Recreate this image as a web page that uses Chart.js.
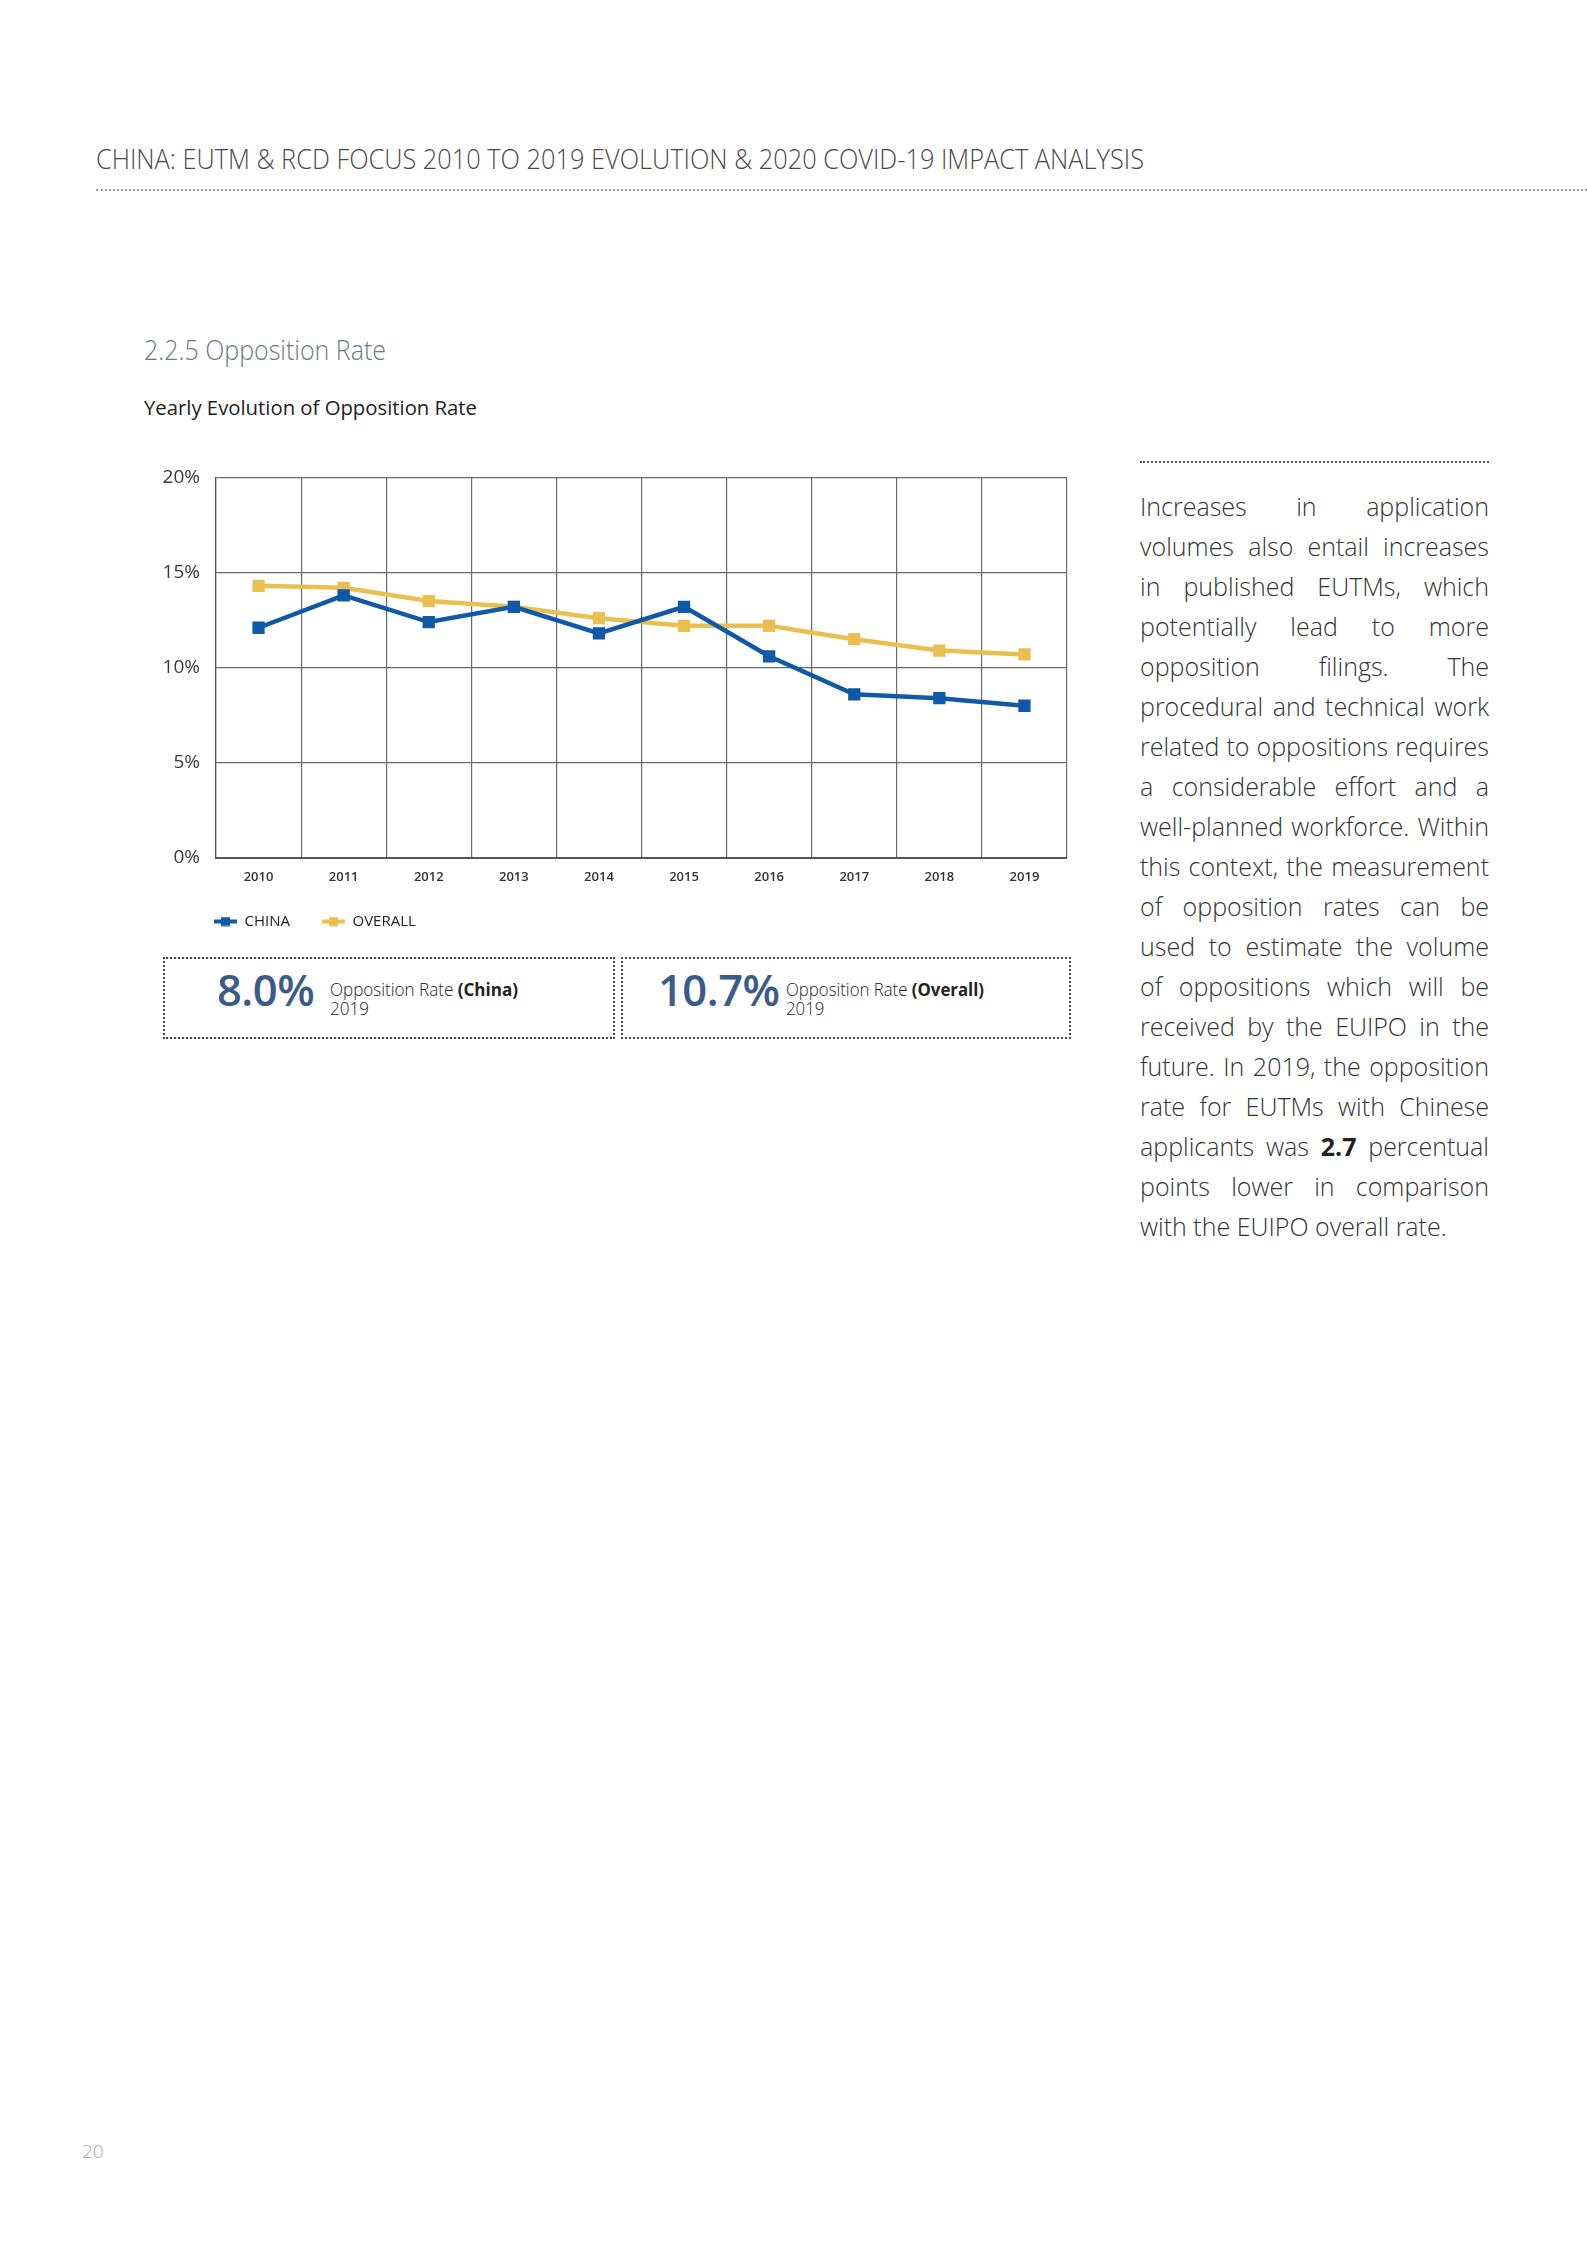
<!DOCTYPE html>
<html>
<head>
<meta charset="utf-8">
<script src="https://cdn.jsdelivr.net/npm/chart.js@4.4.1/dist/chart.umd.min.js"></script>
<style>
body { margin: 0; background: #fff; font-family: "Open Sans", sans-serif; }
#page { position: relative; width: 1587px; height: 2245px; overflow: hidden; background: #fff; }
.abs { position: absolute; white-space: nowrap; line-height: 1; transform-origin: 0 0; }
#header { left: 96px; top: 145px; font-size: 27px; font-weight: 300; color: #4a4a4a; }
#headline { position: absolute; left: 96px; top: 189px; width: 1491px; border-top: 2px dotted #9a9a9a; }
#title { left: 144px; top: 335px; font-size: 28px; font-weight: 300; color: #6d7885; }
#subtitle { left: 144px; top: 398px; font-size: 20px; font-weight: 400; color: #222; }
#chartBox { position: absolute; left: 150px; top: 450px; width: 940px; height: 489px; }
.kpi { position: absolute; top: 957px; height: 82px; border: 2px dotted #444; box-sizing: border-box; }
.big { font-size: 43.5px; font-weight: 600; color: #3b5c88; letter-spacing: -0.5px; }
.lbl { font-size: 18px; font-weight: 300; color: #222; line-height: 19px; }
.lbl b { font-weight: 700; }
#colline { position: absolute; left: 1140px; top: 461px; width: 349px; border-top: 2px dotted #555; }
#col { position: absolute; left: 1140px; top: 486px; width: 349px; font-size: 25px; font-weight: 300; color: #333; }
#col div { height: 40px; line-height: 40px; white-space: nowrap; text-align: justify; text-align-last: justify; }
#col div.last { text-align-last: left; }
#col b { font-weight: 700; color: #222; }
#pnum { left: 82px; top: 2142px; font-size: 19px; font-weight: 300; color: #a8a8a8; }
</style>
</head>
<body>
<div id="page">
  <div id="header" class="abs">CHINA: EUTM &amp; RCD FOCUS 2010 TO 2019 EVOLUTION &amp; 2020 COVID-19 IMPACT ANALYSIS</div>
  <div id="headline"></div>

  <div id="title" class="abs">2.2.5 Opposition Rate</div>
  <div id="subtitle" class="abs">Yearly Evolution of Opposition Rate</div>

  <div id="chartBox"><canvas id="rateChart" width="940" height="489"></canvas></div>

  <div class="kpi" style="left:163px;width:452px;"></div>
  <div class="kpi" style="left:621px;width:450px;"></div>
  <div id="n1" class="abs big" style="left:217px;top:968px;">8.0%</div>
  <div id="l1" class="abs lbl" style="left:330px;top:980px;">Opposition Rate <b>(China)</b><br>2019</div>
  <div id="n2" class="abs big" style="left:658px;top:968px;">10.7%</div>
  <div id="l2" class="abs lbl" style="left:786px;top:980px;">Opposition Rate <b>(Overall)</b><br>2019</div>

  <div id="colline"></div>
  <div id="col">
    <div>Increases in application</div>
    <div>volumes also entail increases</div>
    <div>in published EUTMs, which</div>
    <div>potentially lead to more</div>
    <div>opposition filings. The</div>
    <div>procedural and technical work</div>
    <div>related to oppositions requires</div>
    <div>a considerable effort and a</div>
    <div>well-planned workforce. Within</div>
    <div>this context, the measurement</div>
    <div>of opposition rates can be</div>
    <div>used to estimate the volume</div>
    <div>of oppositions which will be</div>
    <div>received by the EUIPO in the</div>
    <div>future. In 2019, the opposition</div>
    <div>rate for EUTMs with Chinese</div>
    <div>applicants was <b>2.7</b> percentual</div>
    <div>points lower in comparison</div>
    <div class="last">with the EUIPO overall rate.</div>
  </div>

  <div id="pnum" class="abs">20</div>
</div>

<script>
// values (percent)
var years = ['2010', '2011', '2012', '2013', '2014', '2015', '2016', '2017', '2018', '2019'];
var chinaRate = [12.1, 13.8, 12.4, 13.2, 11.8, 13.2, 10.6, 8.6, 8.4, 8.0];
var overallRate = [14.3, 14.2, 13.5, 13.2, 12.6, 12.2, 12.2, 11.5, 10.9, 10.7];
var seriesNames = ['CHINA', 'OVERALL'];
var seriesColors = ['#1059a8', '#e9bf52'];
var yMin = 0, yMax = 20, yStep = 5;

// squeeze text to the width it has on the page
function fitWidth(id, w) {
    var el = document.getElementById(id);
    var real = el.getBoundingClientRect().width;
    if (real > 0) el.style.transform = 'scaleX(' + (w / real) + ')';
}
fitWidth('header', 1048);
fitWidth('title', 242);
fitWidth('subtitle', 333);
fitWidth('l1', 188);
fitWidth('l2', 198);

// legend marker: short line with a square on it
var legendMark = function (color) {
    var c = document.createElement('canvas');
    c.width = 23;
    c.height = 10;
    var g = c.getContext('2d');
    g.fillStyle = color;
    g.fillRect(0, 3, 23, 4);
    g.fillRect(7, 0.5, 9, 9);
    return c;
};

var shiftLegend = {
    id: 'shiftLegend',
    afterLayout: function (chart) {
        var dx = 214 - 150 - chart.options.plugins.legend.labels.padding - chart.legend.left;
        chart.legend.left += dx;
        chart.legend.right += dx;
    }
};

var ctx = document.getElementById('rateChart');
var chart = new Chart(ctx, {
    type: 'line',
    data: {
        labels: years,
        datasets: [{
            label: seriesNames[0],
            data: chinaRate,
            borderColor: seriesColors[0],
            backgroundColor: seriesColors[0],
            borderWidth: 4.5,
            pointStyle: 'rect',
            pointRadius: 5.5,
            tension: 0
        }, {
            label: seriesNames[1],
            data: overallRate,
            borderColor: seriesColors[1],
            backgroundColor: seriesColors[1],
            borderWidth: 4.5,
            pointStyle: 'rect',
            pointRadius: 5.5,
            tension: 0
        }]
    },
    options: {
        responsive: false,
        animation: false,
        devicePixelRatio: 1,
        layout: { padding: { top: 0, right: 23, left: 0, bottom: 0 } },
        scales: {
            x: {
                offset: true,
                grid: { offset: true, color: '#6a6a6a', lineWidth: 1.2, drawTicks: false },
                border: { color: '#555', width: 2 },
                ticks: { color: '#333', padding: 11, font: { family: 'Open Sans', size: 13, weight: '600' } },
                afterFit: function (s) { s.height = 24; }
            },
            y: {
                min: yMin,
                max: yMax,
                grid: { color: '#6a6a6a', lineWidth: 1.2, drawTicks: false },
                border: { color: '#555', width: 1.2 },
                ticks: {
                    stepSize: yStep,
                    padding: 16,
                    color: '#3a3a3a',
                    font: { family: 'Open Sans', size: 19, weight: '400' },
                    callback: function (v) { return v + '%'; }
                },
                afterFit: function (s) { s.width = 66; }
            }
        },
        plugins: {
            legend: {
                position: 'bottom',
                align: 'start',
                labels: {
                    usePointStyle: true,
                    pointStyleWidth: 23,
                    padding: 32,
                    color: '#222',
                    font: { family: 'Open Sans', size: 15, weight: '400' },
                    generateLabels: function (ch) {
                        return ch.data.datasets.map(function (ds, i) {
                            return {
                                text: ds.label,
                                pointStyle: legendMark(seriesColors[i]),
                                fillStyle: seriesColors[i],
                                strokeStyle: seriesColors[i],
                                lineWidth: 0,
                                fontColor: '#222',
                                datasetIndex: i,
                                hidden: false
                            };
                        });
                    }
                }
            },
            tooltip: { enabled: false }
        }
    },
    plugins: [shiftLegend]
});
</script>
</body>
</html>
